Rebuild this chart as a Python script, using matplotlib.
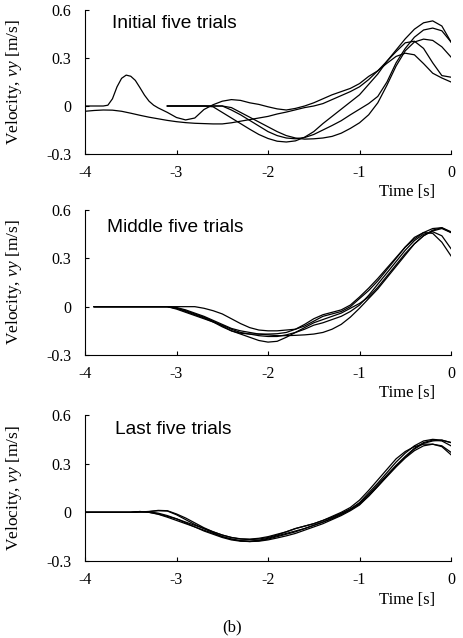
import matplotlib
matplotlib.use("Agg")
import matplotlib.pyplot as plt

plt.rcParams['font.family'] = ['Liberation Serif', 'DejaVu Serif']
plt.rcParams['mathtext.fontset'] = 'custom'
plt.rcParams['mathtext.rm'] = 'Liberation Serif'
plt.rcParams['mathtext.it'] = 'Liberation Serif:italic'

# ---------------- data ----------------
TIME = [-4.0, -3.9, -3.8, -3.7, -3.6, -3.5, -3.4, -3.3, -3.2, -3.1,
        -3.0, -2.9, -2.8, -2.7, -2.6, -2.5, -2.4, -2.3, -2.2, -2.1,
        -2.0, -1.9, -1.8, -1.7, -1.6, -1.5, -1.4, -1.3, -1.2, -1.1,
        -1.0, -0.9, -0.8, -0.7, -0.6, -0.5, -0.4, -0.3, -0.2, -0.1, 0.0]

# Initial five trials (series without own time list align with the tail of TIME)
initial_a_time = [-4.0, -3.9, -3.8, -3.75, -3.7, -3.65, -3.6, -3.55, -3.5, -3.45,
                  -3.4, -3.35, -3.3, -3.25, -3.2, -3.1, -3.0, -2.9, -2.8, -2.7,
                  -2.6, -2.5, -2.4, -2.3, -2.2, -2.1, -2.0, -1.9, -1.8, -1.7,
                  -1.6, -1.5, -1.4, -1.3, -1.2, -1.1, -1.0, -0.9, -0.8, -0.7,
                  -0.6, -0.5, -0.4, -0.3, -0.2, -0.1, 0.0]
initial_a = [0.0, 0.0, 0.0, 0.005, 0.045, 0.12, 0.173, 0.193, 0.186, 0.16,
             0.115, 0.068, 0.03, 0.005, -0.012, -0.04, -0.072, -0.087, -0.075, -0.022,
             0.008, 0.03, 0.04, 0.035, 0.02, 0.01, -0.005, -0.018, -0.025, -0.015,
             0.0, 0.02, 0.045, 0.07, 0.09, 0.11, 0.14, 0.185, 0.22, 0.267,
             0.31, 0.33, 0.32, 0.265, 0.205, 0.175, 0.15]
initial_b = [-0.033, -0.028, -0.025, -0.026, -0.033, -0.045, -0.058, -0.07, -0.08, -0.09,
             -0.098, -0.104, -0.108, -0.11, -0.112, -0.112, -0.105, -0.095, -0.085, -0.075,
             -0.065, -0.05, -0.038, -0.024, -0.01, 0.0, 0.015, 0.04, 0.065, 0.09,
             0.12, 0.165, 0.22, 0.28, 0.34, 0.395, 0.405, 0.36, 0.27, 0.19, 0.18]
initial_c = [0.0, 0.0, 0.0, 0.0, 0.0, -0.005, -0.04, -0.075, -0.11, -0.145, -0.178,
             -0.203, -0.22, -0.225, -0.218, -0.195, -0.16, -0.11, -0.065, -0.02, 0.025,
             0.07, 0.135, 0.2, 0.28, 0.35, 0.42, 0.48, 0.52, 0.532, 0.5, 0.40]
initial_d = [0.0, 0.0, 0.0, 0.0, 0.0, 0.0, 0.0, -0.025, -0.055, -0.09, -0.125,
             -0.16, -0.185, -0.2, -0.205, -0.197, -0.178, -0.15, -0.122, -0.092, -0.055,
             -0.02, 0.015, 0.06, 0.15, 0.27, 0.36, 0.43, 0.475, 0.487, 0.47, 0.40]
initial_e = [0.0, 0.0, 0.0, 0.0, 0.0, 0.0, 0.0, -0.01, -0.04, -0.07, -0.1,
             -0.13, -0.16, -0.185, -0.2, -0.207, -0.205, -0.2, -0.19, -0.17, -0.14,
             -0.105, -0.055, 0.02, 0.13, 0.25, 0.345, 0.40, 0.418, 0.41, 0.37, 0.306]

# Middle five trials
middle_a = [0.0, 0.0, 0.0, 0.0, 0.0, 0.0, 0.0, 0.0, 0.0,
            -0.01, -0.025, -0.045, -0.065, -0.09, -0.12, -0.15, -0.17, -0.19, -0.21,
            -0.22, -0.215, -0.19, -0.16, -0.13, -0.1, -0.08, -0.06, -0.04, -0.01,
            0.02, 0.06, 0.12, 0.19, 0.26, 0.33, 0.39, 0.44, 0.47, 0.485, 0.46]
middle_b = [0.0, 0.0, 0.0, 0.0, 0.0, 0.0, 0.0, 0.0, 0.0,
            -0.005, -0.02, -0.04, -0.06, -0.085, -0.11, -0.135, -0.15, -0.16, -0.17,
            -0.175, -0.18, -0.18, -0.178, -0.175, -0.17, -0.16, -0.14, -0.11, -0.065,
            -0.01, 0.05, 0.11, 0.18, 0.25, 0.32, 0.39, 0.44, 0.475, 0.49, 0.46]
middle_c = [0.0, 0.0, 0.0, 0.0, 0.0, 0.0, 0.0, 0.0, 0.0, 0.0, 0.0, 0.0,
            -0.01, -0.025, -0.045, -0.075, -0.105, -0.13, -0.145,
            -0.15, -0.15, -0.145, -0.14, -0.12, -0.09, -0.06, -0.045, -0.03, 0.0,
            0.05, 0.1, 0.16, 0.23, 0.3, 0.37, 0.43, 0.46, 0.455, 0.4, 0.315]
middle_d = [0.0, 0.0, 0.0, 0.0, 0.0, 0.0, 0.0, 0.0, 0.0,
            -0.015, -0.035, -0.055, -0.075, -0.095, -0.115, -0.14, -0.16, -0.17, -0.18,
            -0.185, -0.185, -0.175, -0.16, -0.14, -0.115, -0.1, -0.08, -0.06, -0.03,
            0.01, 0.07, 0.14, 0.21, 0.28, 0.35, 0.41, 0.45, 0.465, 0.44, 0.36]
middle_e = [0.0, 0.0, 0.0, 0.0, 0.0, 0.0, 0.0, 0.0, 0.0,
            -0.01, -0.03, -0.05, -0.07, -0.095, -0.125, -0.15, -0.165, -0.17, -0.17,
            -0.17, -0.168, -0.16, -0.14, -0.11, -0.075, -0.05, -0.035, -0.02, 0.01,
            0.06, 0.115, 0.175, 0.24, 0.305, 0.37, 0.42, 0.46, 0.485, 0.49, 0.465]

# Last five trials
last_a = [0.0, 0.0, 0.0, 0.0, 0.0, 0.0, 0.003, 0.005, 0.012, 0.01,
          -0.01, -0.035, -0.065, -0.095, -0.12, -0.14, -0.155, -0.163, -0.165, -0.16,
          -0.15, -0.135, -0.12, -0.1, -0.085, -0.07, -0.05, -0.03, -0.005, 0.02,
          0.06, 0.12, 0.18, 0.245, 0.31, 0.365, 0.41, 0.44, 0.45, 0.445, 0.43]
last_b = [0.0, 0.0, 0.0, 0.0, 0.0, 0.0, 0.003, 0.005, 0.01, 0.008,
          -0.015, -0.045, -0.075, -0.1, -0.125, -0.15, -0.165, -0.175, -0.178, -0.172,
          -0.16, -0.145, -0.13, -0.115, -0.1, -0.08, -0.06, -0.035, -0.01, 0.02,
          0.055, 0.11, 0.17, 0.23, 0.29, 0.345, 0.395, 0.43, 0.445, 0.44, 0.41]
last_c = [0.0, 0.0, 0.0, 0.0, 0.0, 0.0, 0.005, 0.0, -0.012, -0.03,
          -0.05, -0.07, -0.09, -0.11, -0.13, -0.15, -0.165, -0.175, -0.18, -0.178,
          -0.17, -0.158, -0.145, -0.13, -0.11, -0.09, -0.07, -0.045, -0.02, 0.01,
          0.045, 0.1, 0.16, 0.22, 0.28, 0.335, 0.38, 0.41, 0.42, 0.41, 0.37]
last_d = [0.0, 0.0, 0.0, 0.0, 0.0, 0.0, 0.005, 0.0, -0.01, -0.025,
          -0.04, -0.06, -0.08, -0.1, -0.12, -0.14, -0.155, -0.165, -0.168, -0.165,
          -0.155, -0.14, -0.12, -0.1, -0.085, -0.07, -0.05, -0.025, 0.0, 0.03,
          0.075, 0.135, 0.2, 0.265, 0.33, 0.375, 0.405, 0.42, 0.42, 0.405, 0.355]
last_e = [0.0, 0.0, 0.0, 0.0, 0.0, 0.0, 0.002, 0.003, -0.005, -0.02,
          -0.04, -0.065, -0.09, -0.115, -0.135, -0.155, -0.17, -0.178, -0.18, -0.175,
          -0.165, -0.15, -0.135, -0.12, -0.1, -0.08, -0.06, -0.04, -0.015, 0.015,
          0.05, 0.1, 0.16, 0.225, 0.285, 0.34, 0.39, 0.425, 0.44, 0.445, 0.43]

PANEL_TITLES = ["Initial five trials", "Middle five trials", "Last five trials"]
PANEL_SERIES = [
    [(initial_a_time, initial_a), (None, initial_b), (None, initial_c),
     (None, initial_d), (None, initial_e)],
    [(None, middle_a), (None, middle_b), (None, middle_c), (None, middle_d), (None, middle_e)],
    [(None, last_a), (None, last_b), (None, last_c), (None, last_d), (None, last_e)],
]
X_TICKS = [-4, -3, -2, -1, 0]
X_TICK_LABELS = ["-4", "-3", "-2", "-1", "0"]
Y_TICKS = [-0.3, 0.0, 0.3, 0.6]
Y_TICK_LABELS = ["-0.3", "0", "0.3", "0.6"]
X_LABEL = "Time [s]"
Y_LABEL = r"Velocity, $vy$ [m/s]"
CAPTION = "(b)"

# ---------------- layout ----------------
W, H = 464, 638
fig = plt.figure(figsize=(W / 100, H / 100), dpi=100)

panel_px = [(10, 154), (210, 355), (415, 561)]
left_px, right_px = 85, 451
title_pos = [(0.073, 0.877), (0.060, 0.850), (0.082, 0.870)]

for i, (top, bot) in enumerate(panel_px):
    ax = fig.add_axes([left_px / W, 1 - bot / H, (right_px - left_px) / W, (bot - top) / H])
    for t, vals in PANEL_SERIES[i]:
        tt = t if t is not None else TIME[-len(vals):]
        ax.plot(tt, vals, color='black', lw=0.9)
    ax.set_xlim(-4, 0)
    ax.set_ylim(-0.3, 0.6)
    ax.set_xticks(X_TICKS)
    ax.set_xticklabels(X_TICK_LABELS)
    ax.set_yticks(Y_TICKS)
    ax.set_yticklabels(Y_TICK_LABELS)
    for s in ['top', 'right']:
        ax.spines[s].set_visible(False)
    for s in ['left', 'bottom']:
        ax.spines[s].set_linewidth(0.8)
    ax.tick_params(axis='both', direction='in', length=3, width=0.8, labelsize=11.5)
    ax.tick_params(axis='x', pad=8)
    ax.tick_params(axis='y', pad=10)
    ax.set_ylabel(Y_LABEL, fontsize=12.5)
    ax.yaxis.set_label_coords(-0.168, 0.5)
    ax.text(title_pos[i][0], title_pos[i][1], PANEL_TITLES[i], transform=ax.transAxes,
            fontsize=13.8, family=['Liberation Sans', 'DejaVu Sans'],
            ha='left', va='baseline')
    ax.text(0.957, -0.265, X_LABEL, transform=ax.transAxes, fontsize=12,
            ha='right', va='center')

fig.text(232 / W, 1 - 627 / H, CAPTION, fontsize=12, ha='center', va='center')

fig.savefig("out.png", dpi=100)
